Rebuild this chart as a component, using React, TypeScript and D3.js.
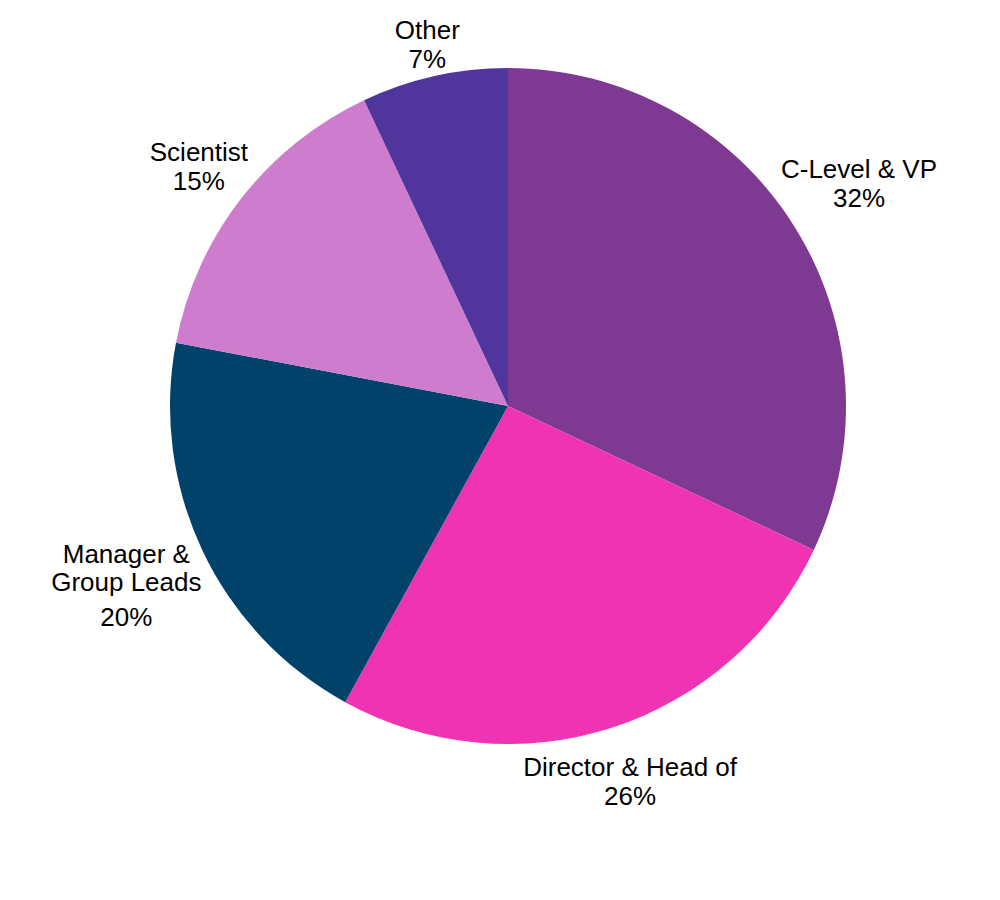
import React, { useRef, useEffect } from "react";
import * as d3 from "d3";

const categories = ["C-Level & VP", "Director & Head of", "Manager & Group Leads", "Scientist", "Other"];
const labelLines = [["C-Level & VP"], ["Director & Head of"], ["Manager &", "Group Leads"], ["Scientist"], ["Other"]];
const shares = [32, 26, 20, 15, 7];
const colors = ["#7e3a93", "#ef33b3", "#01426a", "#ce7ccd", "#50369c"];

const width = 1000;
const height = 900;
const cx = 508;
const cy = 406;
const radius = 338;

const App: React.FC = () => {
  const svgRef = useRef<SVGSVGElement>(null);

  useEffect(() => {
    if (!svgRef.current) return;
    const svg = d3.select(svgRef.current);
    svg.selectAll("*").remove();

    const pie = d3
      .pie<number>()
      .sort(null)
      .value((d) => d);
    const arcs = pie(shares);
    const arc = d3.arc<d3.PieArcDatum<number>>().innerRadius(0).outerRadius(radius);

    const g = svg.append("g").attr("transform", `translate(${cx},${cy})`);

    g.selectAll("path")
      .data(arcs)
      .enter()
      .append("path")
      .attr("d", arc)
      .attr("fill", (d, i) => colors[i]);

    // outside labels: box centre sits on the mid-angle ray, just clear of the rim
    arcs.forEach((d, i) => {
      const mid = (d.startAngle + d.endAngle) / 2;
      const sin = Math.sin(mid);
      const cos = Math.cos(mid);
      const lines = [...labelLines[i], `${shares[i]}%`];
      const lineGap = 28;
      const pctGap = labelLines[i].length > 1 ? 35 : 29;

      const label = g
        .append("text")
        .attr("text-anchor", "middle")
        .style("font-family", "'Liberation Sans', Arial, Helvetica, sans-serif")
        .style("font-size", "26px")
        .attr("fill", "#000")
        .attr("aria-label", categories[i]);

      let y = 0;
      lines.forEach((t, j) => {
        if (j > 0) y += j === lines.length - 1 ? pctGap : lineGap;
        label.append("tspan").attr("x", 0).attr("y", y).text(t);
      });

      const box = (label.node() as SVGTextElement).getBBox();
      const reach = Math.abs(sin) * box.width / 2 + Math.abs(cos) * box.height / 2;
      const dist = radius + reach - 4;
      const px = dist * sin;
      const py = -dist * cos - (box.y + box.height / 2);
      label.attr("transform", `translate(${px},${py})`);
    });
  }, []);

  return <svg ref={svgRef} width={width} height={height} style={{ display: "block", margin: "-8px" }} />;
};

export default App;
